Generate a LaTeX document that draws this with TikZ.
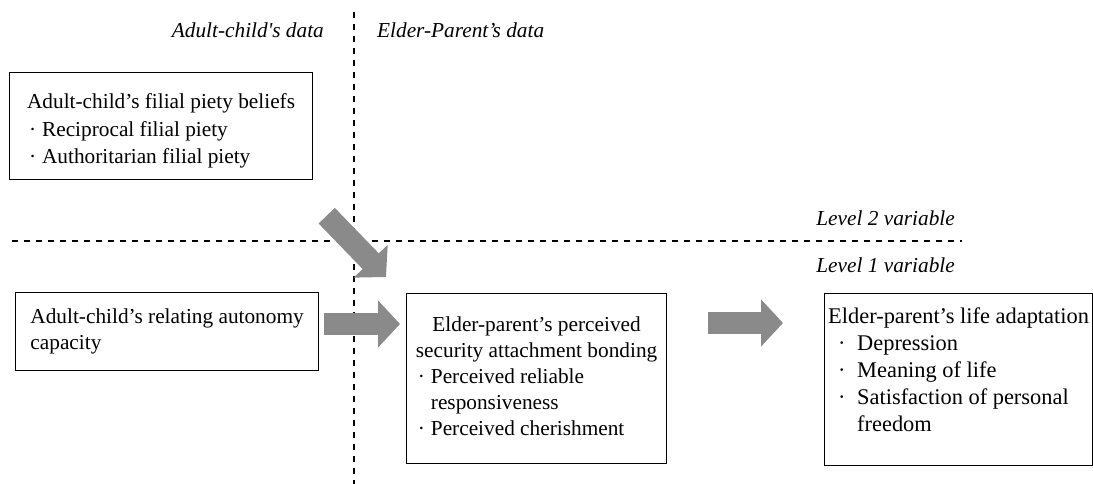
\documentclass[tikz,border=0pt]{standalone}
\usepackage{fontspec}
\setmainfont{Liberation Serif}
\usetikzlibrary{arrows.meta,calc}
\definecolor{arrowgray}{RGB}{138,138,138}
\newcommand\bul{\makebox[15pt][l]{\hspace{2pt}·}}
\newcommand\bulb{\hspace*{10pt}\makebox[19pt][l]{·}}
\tikzset{
  every node/.style={font=\fontsize{21.3}{26}\selectfont},
  box/.style={draw, line width=1.2pt, anchor=north west, align=left, inner sep=0pt},
  lbl/.style={inner sep=0pt, font=\fontsize{21.3}{26}\selectfont\itshape},
  divider/.style={line width=1.3pt, dash pattern=on 6pt off 6pt},
  blockarrow/.style={draw=arrowgray, line width=22.5pt, -{Triangle[length=22pt,width=46pt,fill=arrowgray]}}
}
\begin{document}
\begin{tikzpicture}[x=1pt,y=-1pt]
\useasboundingbox (0,0) rectangle (1093,484);
% dividers
\coordinate (vtop) at (354,12);
\coordinate (vbot) at (354,484);
\coordinate (hleft) at (12,241);
\coordinate (hright) at (962,241);
\draw[divider] (vtop) -- (vbot);
\draw[divider] (hleft) -- (hright);
% labels
\node[lbl, anchor=east] (lac) at (324,30) {Adult-child\textquotesingle s data};
\node[lbl, anchor=west] (lep) at (377,30) {Elder-Parent’s data};
\node[lbl, anchor=east] (l2) at (955,218) {Level 2 variable};
\node[lbl, anchor=east] (l1) at (955,265) {Level 1 variable};
% boxes
\node[box, minimum width=303pt, minimum height=107pt, font=\fontsize{21.3}{27.5}\selectfont] (b1) at (9,72)
  {\rule{0pt}{25pt}Adult-child’s filial piety beliefs\\ \bul Reciprocal filial piety\\ \bul Authoritarian filial piety};
\node[box, minimum width=303pt, minimum height=78pt] (b2) at (15,292)
  {Adult-child’s relating autonomy\\ capacity};
\node[box, minimum width=260pt, minimum height=170pt] (b3) at (406,293)
  {\begin{tabular}{@{}l@{}}\multicolumn{1}{@{}c@{}}{Elder-parent’s perceived}\\ security attachment bonding\\ \bul Perceived reliable\\ \hspace*{15pt}responsiveness\\ \bul Perceived cherishment\end{tabular}};
\node[box, minimum width=268pt, minimum height=172pt, font=\fontsize{22.4}{27}\selectfont] (b4) at (824,293)
  {Elder-parent’s life adaptation\\ \bulb Depression\\ \bulb Meaning of life\\ \bulb Satisfaction of personal\\ \hspace*{29pt}freedom\\[-7pt]\mbox{}};
% block arrows
\coordinate (d1) at ([shift={(13.5,35.5)}]b1.south east);
\coordinate (d2) at ([shift={(-20,-16)}]b3.north west);
\draw[blockarrow] (d1) -- (d2);
\coordinate (r1) at (0,324);
\draw[blockarrow] ($(b2.east |- r1)+(5,0)$) -- ($(b3.west |- r1)+(-6,0)$);
\coordinate (r2) at (0,323);
\draw[blockarrow] ($(b3.east |- r2)+(41,0)$) -- ($(b4.west |- r2)+(-41,0)$);
\end{tikzpicture}
\end{document}
